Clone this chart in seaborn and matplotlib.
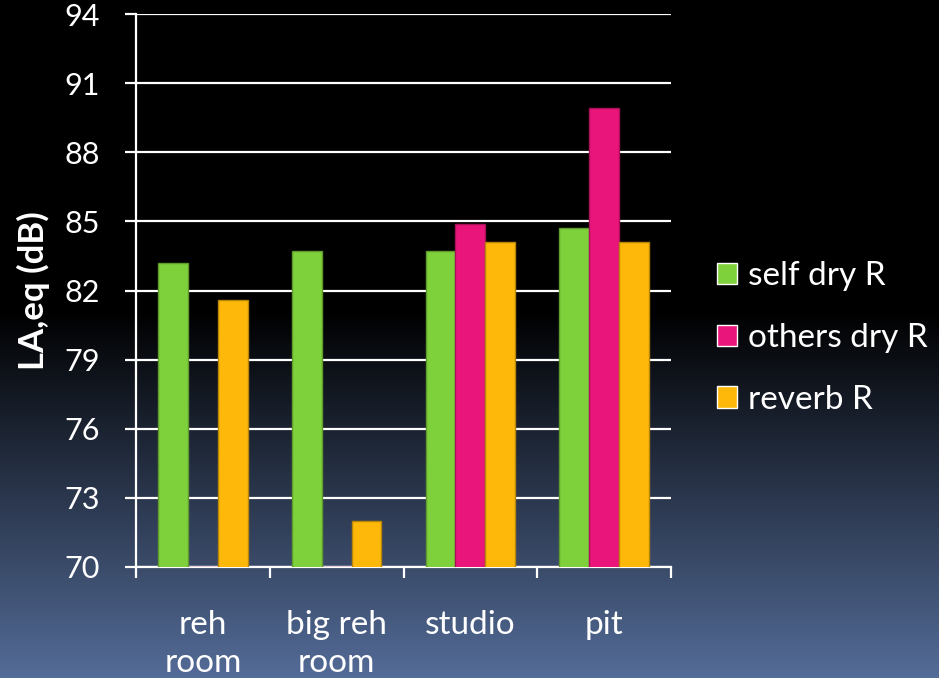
import numpy as np
import pandas as pd
import matplotlib
matplotlib.use("Agg")
import matplotlib.pyplot as plt
import seaborn as sns

# Sound levels per room and reflection type
rooms = ["reh\nroom", "big reh\nroom", "studio", "pit"]
series = ["self dry R", "others dry R", "reverb R"]
self_dry = [83.2, 83.7, 83.7, 84.7]
others_dry = [70.0, 70.0, 84.9, 89.9]
reverb = [81.6, 72.0, 84.1, 84.1]
y_ticks = [70, 73, 76, 79, 82, 85, 88, 91, 94]

colors = ["#7fd13b", "#ea157a", "#feb80a"]
edges = ["#5e9a2c", "#a8105a", "#b98508"]

df = pd.DataFrame({
    "room": rooms * 3,
    "series": [s for s in series for _ in rooms],
    "level": self_dry + others_dry + reverb,
})

sns.set_theme(style="white")
plt.rcParams["font.family"] = ["Lato", "DejaVu Sans"]

W, H, DPI = 939, 678, 100
fig = plt.figure(figsize=(W / DPI, H / DPI), dpi=DPI)

# vertical background gradient: black on top, slate blue at the bottom
bg = fig.add_axes([0, 0, 1, 1], zorder=-10)
rows = np.arange(H)
t = np.clip((rows - 310) / (H - 310), 0, 1)[:, None]
bottom_rgb = np.array([84, 108, 152]) / 255.0
grad = (t * bottom_rgb)[:, None, :].repeat(2, axis=1)
bg.imshow(grad, aspect="auto", extent=[0, 1, 0, 1], interpolation="bilinear")
bg.set_axis_off()

ax = fig.add_axes([136 / W, 1 - 567 / H, (671 - 136) / W, (567 - 14) / H])
ax.set_facecolor("none")

sns.barplot(data=df, x="room", y="level", hue="series", order=rooms,
            hue_order=series, palette=colors, saturation=1, width=0.67,
            ax=ax, zorder=3)

for cont, ec in zip(ax.containers, edges):
    for bar in cont:
        bar.set_edgecolor(ec)
        bar.set_linewidth(1.0)

ax.set_ylim(70, 94)
ax.set_xlim(-0.5, 3.5)
ax.set_yticks(y_ticks)
ax.yaxis.grid(True, color="white", linewidth=1.6, zorder=0)
ax.set_axisbelow(True)

for side in ["top", "right"]:
    ax.spines[side].set_visible(False)
for side in ["left", "bottom"]:
    ax.spines[side].set_color("white")
    ax.spines[side].set_linewidth(1.6)

ax.tick_params(axis="y", colors="white", labelsize=22, length=8, width=1.6,
               direction="out", pad=18, left=True)
ax.tick_params(axis="x", which="major", length=0, colors="white",
               labelsize=24, pad=31)
ax.set_xticks(np.arange(-0.5, 4.0, 1.0), minor=True)
ax.tick_params(axis="x", which="minor", length=8, width=1.6, color="white",
               direction="out", bottom=True)
for lab in ax.get_xticklabels():
    lab.set_linespacing(1.33)

ax.set_xlabel("")
ax.set_ylabel("LA,eq (dB)", color="white", fontsize=25, fontweight="bold",
              labelpad=10)

sns.move_legend(ax, "center left", bbox_to_anchor=(1.061, 0.414), title=None,
                frameon=False, fontsize=24, labelcolor="white",
                handlelength=0.6, handleheight=0.6, handletextpad=0.33,
                labelspacing=0.95, borderaxespad=0)

fig.savefig("out.png", dpi=DPI)
